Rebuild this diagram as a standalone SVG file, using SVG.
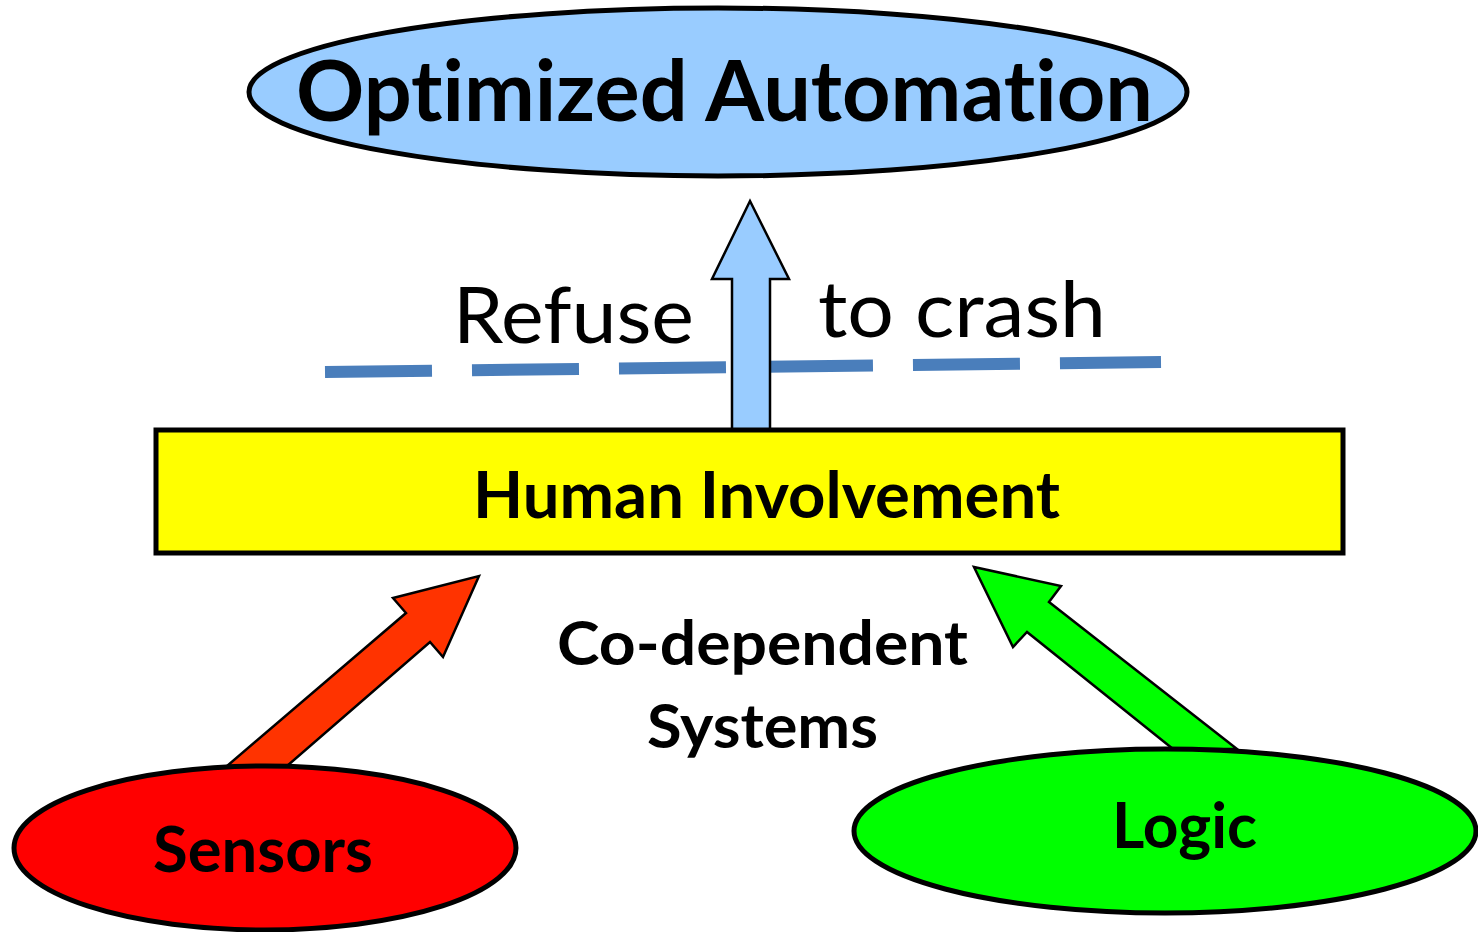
<svg xmlns="http://www.w3.org/2000/svg" width="1478" height="932" viewBox="0 0 1478 932">
  <style>
    .outline { stroke: #000; stroke-width: 5; }
    .thin { stroke: #000; stroke-width: 2.5; stroke-linejoin: miter; }
    .label { font-family: Lato, "Liberation Sans", sans-serif; fill: #000; font-variant-ligatures: none; font-feature-settings: "liga" 0; }
    .bold { font-weight: bold; }
  </style>
  <rect width="1478" height="932" fill="#fff"/>

  <!-- dashed threshold line -->
  <g id="threshold">
    <line x1="325" y1="372" x2="1161" y2="362" stroke="#4A7EBB" stroke-width="12" stroke-dasharray="107 40"/>
  </g>

  <g id="connectors">
    <!-- upward arrow to the top goal -->
    <polygon class="thin" fill="#99CCFF" points="750,201 789,279 770,279 770,431 732,431 732,279 712,279"/>
    <!-- arrow from sensors -->
    <polygon class="thin" fill="#FF3300" points="479,576 443,657 430,642 287,766 227,766 406,613 393,598"/>
    <!-- arrow from logic -->
    <polygon class="thin" fill="#00FF00" points="974,567 1061,586 1049,602 1237,749 1173,749 1027,632 1013,647"/>
  </g>

  <g id="goal">
    <ellipse class="outline" cx="718" cy="92" rx="469" ry="84" fill="#99CCFF"/>
    <text class="label bold" x="296" y="121" font-size="84" textLength="857" lengthAdjust="spacingAndGlyphs">Optimized Automation</text>
  </g>

  <g id="caption-top">
    <text class="label" x="453" y="343" font-size="77" textLength="241" lengthAdjust="spacingAndGlyphs">Refuse</text>
    <text class="label" x="818" y="337" font-size="77" textLength="288" lengthAdjust="spacingAndGlyphs">to crash</text>
  </g>

  <g id="human">
    <rect class="outline" x="156" y="430" width="1187" height="123" fill="#FFFF00"/>
    <text class="label bold" x="473" y="518" font-size="65" textLength="587" lengthAdjust="spacingAndGlyphs">Human Involvement</text>
  </g>

  <g id="caption-middle">
    <text class="label bold" x="557" y="665" font-size="62" textLength="411" lengthAdjust="spacingAndGlyphs">Co-dependent</text>
    <text class="label bold" x="647" y="748" font-size="62" textLength="231" lengthAdjust="spacingAndGlyphs">Systems</text>
  </g>

  <g id="sensors">
    <ellipse class="outline" cx="265" cy="848" rx="251" ry="82" fill="#FF0000"/>
    <text class="label bold" x="153" y="872" font-size="63" textLength="220" lengthAdjust="spacingAndGlyphs">Sensors</text>
  </g>

  <g id="logic">
    <ellipse class="outline" cx="1165" cy="831" rx="311" ry="82" fill="#00FF00"/>
    <text class="label bold" x="1112" y="848" font-size="63" textLength="145" lengthAdjust="spacingAndGlyphs">Logic</text>
  </g>
</svg>
